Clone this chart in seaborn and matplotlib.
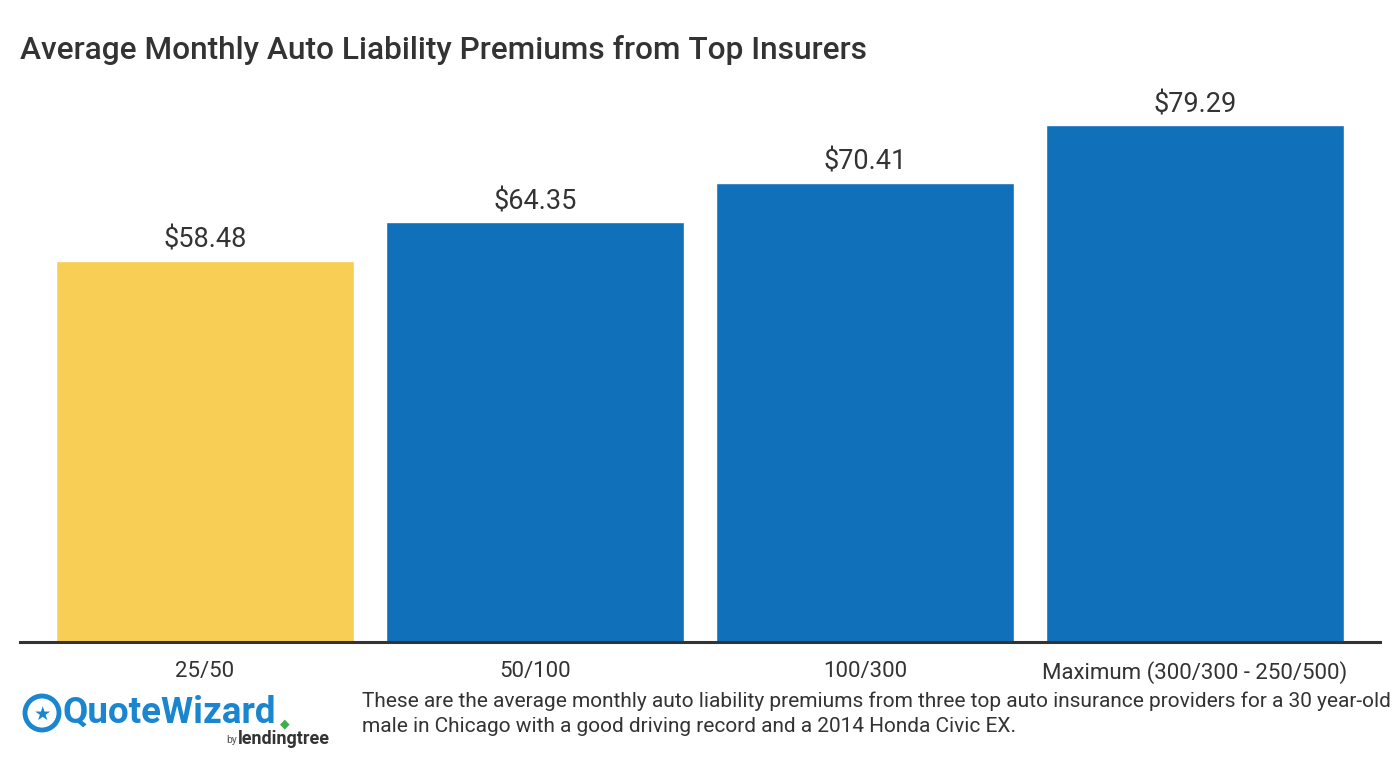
import matplotlib
matplotlib.use("Agg")
import matplotlib.pyplot as plt
import seaborn as sns
import pandas as pd
from matplotlib.patches import Circle

categories = ["25/50", "50/100", "100/300", "Maximum (300/300 - 250/500)"]
values = [58.48, 64.35, 70.41, 79.29]
value_labels = ["$58.48", "$64.35", "$70.41", "$79.29"]
bar_colors = ["#F8CE54", "#1071BA", "#1071BA", "#1071BA"]

title = "Average Monthly Auto Liability Premiums from Top Insurers"
footnote = ("These are the average monthly auto liability premiums from three top auto insurance providers for a 30 year-old\n"
            "male in Chicago with a good driving record and a 2014 Honda Civic EX.")

sns.set_theme(style="white")
plt.rcParams['font.family'] = ['Roboto', 'DejaVu Sans']
TXT = "#333333"

df = pd.DataFrame({"category": categories, "value": values})

W, H = 1400, 770
fig = plt.figure(figsize=(W / 100, H / 100), dpi=100)
ax = fig.add_axes([20 / W, 1 - 642 / H, 1360 / W, (642 - 90) / H])

sns.barplot(data=df, x="category", y="value", hue="category", palette=bar_colors,
            width=298 / 330, saturation=1, legend=False, ax=ax)

ax.set_xlim(-0.5606, 3.5606)
ax.set_ylim(0, (642 - 90) / 6.52)
for s in ["top", "right", "left"]:
    ax.spines[s].set_visible(False)
ax.spines["bottom"].set_color(TXT)
ax.spines["bottom"].set_linewidth(2.2)
ax.set_yticks([])
ax.set_xlabel("")
ax.set_ylabel("")
ax.tick_params(axis="x", length=0, pad=14, labelsize=16, labelcolor=TXT)

for i, (v, lab) in enumerate(zip(values, value_labels)):
    ax.annotate(lab, (i, v), xytext=(0, 5), textcoords="offset points",
                ha="center", va="bottom", fontsize=19.5, color=TXT)

fig.text(20 / W, 1 - 50 / H, title, ha="left", va="center", fontsize=22.8,
         color=TXT, fontweight="medium")

fig.text(362 / W, 1 - 714 / H, footnote, ha="left", va="center", fontsize=15,
         color=TXT, linespacing=1.4)

# logo (text-based)
lax = fig.add_axes([0, 0, 1, 1], facecolor="none")
lax.set_xlim(0, W)
lax.set_ylim(H, 0)
lax.axis("off")
blue = "#1A86CF"
lax.add_patch(Circle((42, 713), 17, fill=False, lw=3.5, color=blue))
lax.text(42, 714, "\u2605", ha="center", va="center", fontsize=14, color=blue,
         family=["DejaVu Sans"])
lax.text(63, 713, "QuoteWizard", ha="left", va="center", fontsize=26.5,
         color=blue, fontweight="bold")
lax.text(226, 740, "by", ha="left", va="center", fontsize=7.5, color="#555555")
lax.text(238, 739, "lendingtree", ha="left", va="center", fontsize=13,
         color="#333333", fontweight="bold")
lax.text(285, 724, "\u25c6", ha="center", va="center", fontsize=9, color="#3DAE49",
         family=["DejaVu Sans"])

fig.savefig("out.png", dpi=100, facecolor="white")
